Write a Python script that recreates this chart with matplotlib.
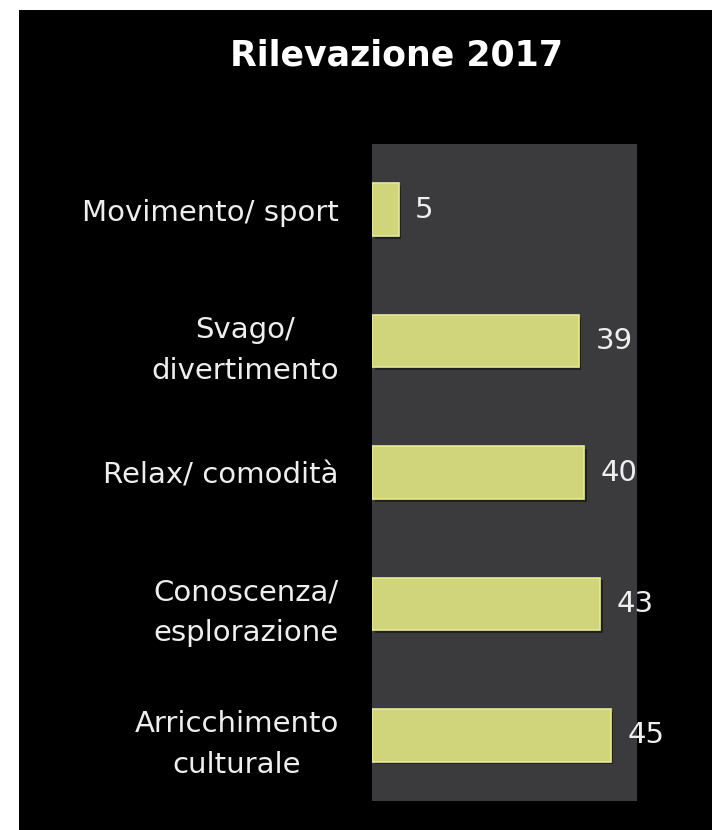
import matplotlib
matplotlib.use("Agg")
import matplotlib.pyplot as plt
from matplotlib.patches import Rectangle
import matplotlib.patheffects as pe

categories = ["Movimento/ sport", "Svago/\ndivertimento", "Relax/ comodità",
              "Conoscenza/\nesplorazione", "Arricchimento\nculturale"]
values = [5, 39, 40, 43, 45]
title = "Rilevazione 2017"

W, H = 712, 830
fig = plt.figure(figsize=(W / 100, H / 100), dpi=100, facecolor="black")
# thin white strips along top and left
fig.patches.append(Rectangle((0, (H - 10) / H), 1, 10 / H,
                             transform=fig.transFigure, facecolor="white",
                             edgecolor="none", zorder=-10))
fig.patches.append(Rectangle((0, 0), 19 / W, 1,
                             transform=fig.transFigure, facecolor="white",
                             edgecolor="none", zorder=-10))

ax = fig.add_axes([372 / W, (H - 801) / H, 265 / W, 657 / H])
ax.set_zorder(2)
ax.set_facecolor("#3b3b3d")
for s in ax.spines.values():
    s.set_visible(False)

ypos = list(range(len(categories)))
bars = ax.barh(ypos, values, height=0.4, color="#d0d47a",
               edgecolor="#e6ea98", linewidth=1.2, zorder=3)
for b in bars:
    b.set_path_effects([pe.SimplePatchShadow(offset=(2, -2), shadow_rgbFace="#111111", alpha=0.6),
                        pe.Normal()])

ax.set_xlim(0, 50)
ax.set_ylim(len(categories) - 0.5, -0.5)
ax.set_xticks([])
ax.set_yticks(ypos)
ax.set_yticklabels(categories, fontsize=21, color="#eeeeee", linespacing=1.57)
for t in ax.get_yticklabels():
    t.set_multialignment("center")
ax.tick_params(axis="y", length=0, pad=24)

for y, v in zip(ypos, values):
    ax.annotate(str(v), xy=(v, y), xytext=(12, 0), textcoords="offset points",
                ha="left", va="center", fontsize=21, color="#eeeeee")

fig.text(397 / W, 1 - 56 / H, title, ha="center", va="center",
         fontsize=25, fontweight="bold", color="white")

fig.savefig("out.png", dpi=100, facecolor=fig.get_facecolor())
